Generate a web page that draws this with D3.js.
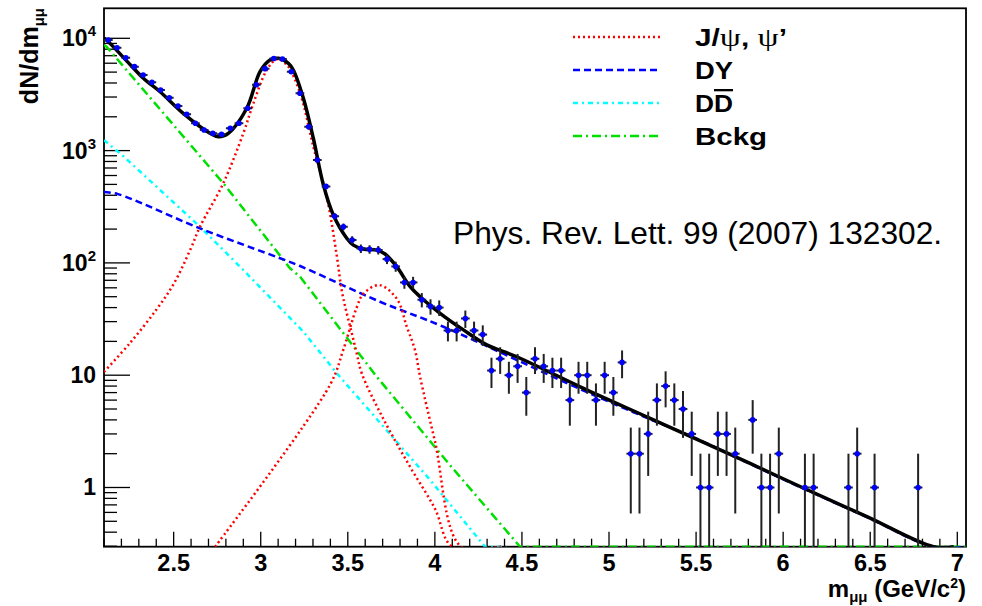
<!DOCTYPE html>
<html><head><meta charset="utf-8">
<script src="https://cdn.jsdelivr.net/npm/d3@7"></script>
<style>
body{margin:0;background:#fff;}
text{font-family:"Liberation Sans",Arial,Helvetica,sans-serif;}
</style></head><body>
<svg id="c" width="982" height="606"></svg>
<script>
// ---------------- DATA ----------------
const xTickValues = [2.5, 3, 3.5, 4, 4.5, 5, 5.5, 6, 6.5, 7];
const xTickLabels = ["2.5", "3", "3.5", "4", "4.5", "5", "5.5", "6", "6.5", "7"];
const yTickValues = [1, 10, 100, 1000, 10000];
const yTickBase   = ["1", "10", "10", "10", "10"];
const yTickExp    = ["", "", "2", "3", "4"];

// measured data (bin centres, counts)
const massBins = [2.125,2.175,2.225,2.275,2.325,2.375,2.425,2.475,2.525,2.575,2.625,2.675,2.725,2.775,2.825,2.875,2.925,2.975,
  3.025,3.075,3.125,3.175,3.225,3.275,3.325,3.375,3.425,3.475,3.525,3.575,3.625,3.675,3.725,3.775,3.825,3.875,3.925,3.975,
  4.025,4.075,4.125,4.175,4.225,4.275,4.325,4.375,4.425,4.475,4.525,4.575,4.625,4.675,4.725,4.775,4.825,4.875,4.925,4.975,
  5.025,5.075,5.125,5.175,5.225,5.275,5.325,5.375,5.425,5.475,5.525,5.575,5.625,5.675,5.725,5.825,5.875,5.925,5.975,
  6.125,6.175,6.375,6.425,6.525,6.775];
const counts = [9660,8250,6720,5590,4710,4060,3465,2960,2495,2105,1750,1525,1425,1400,1580,1750,2380,3860,
  5370,6600,6550,5040,3240,1630,825,480,260,210,160,134,132,130,108,93,67,67,47,41,
  40,25,25,32,25,23,11,14,10,12,7,14,12,11,11,6,10,10,6,10,
  7,13,2,2,3,6,8,6,5,3,1,1,3,3,2,4,1,1,2,
  1,1,1,2,1,1];

// fit curves: [mass, dN/dm]
const totalFit = [[2.10,10000],[2.125,9330],[2.23,6300],[2.326,4405],[2.422,3340],[2.555,2148],[2.709,1426],[2.757,1330],
  [2.814,1426],[2.920,2382],[2.996,5047],[3.053,6412],[3.101,6637],[3.159,5984],[3.187,5224],[3.245,2924],[3.302,1288],
  [3.360,494],[3.417,267],[3.494,166],[3.532,144],[3.589,133],[3.666,130],[3.714,120],[3.781,92.5],[3.858,61.4],
  [3.915,50],[4.030,35.6],[4.164,25.3],[4.298,18.6],[4.470,14.6],[4.853,7.64],[5.236,4.13],[5.810,1.64],[6.097,1.02],
  [6.481,0.55],[6.863,0.297],[6.98,0.297]];
const jpsiFit = [[2.10,10.7],[2.25,19.4],[2.40,38.2],[2.50,64.9],[2.60,136],[2.651,210],[2.785,512],[2.900,1426],
  [2.958,2636],[3.035,5224],[3.092,6501],[3.15,5800],[3.226,3236],[3.302,1084],[3.379,388],[3.437,115],[3.465,57],
  [3.494,35.6],[3.523,23.6],[3.551,15.7],[3.580,10.4],[3.70,4.2],[3.85,1.6],[4.00,0.65],[4.10,0.297],[4.38,0.297]];
const psi2Fit = [[2.738,0.297],[3.398,8.2],[3.475,17],[3.551,40],[3.589,53],
  [3.68,63.5],[3.781,48],[3.839,27],[3.886,16.7],[3.915,9.7],[4.00,2.6],[4.15,0.297],[4.38,0.297]];
const dyFit = [[2.10,428],[2.18,410],[2.651,203],[3.111,110],[3.226,93.8],[3.685,45.1],[4.049,27],[4.853,7.3],
  [5.236,4.05],[5.510,2.69],[5.810,1.62],[6.097,1.01],[6.481,0.545],[6.863,0.297],[7.05,0.297]];
const ddbarFit = [[2.10,1239],[2.205,910],[2.651,210],[2.881,92.5],[3.245,24.4],[3.437,10.4],
  [3.972,1.17],[4.288,0.297],[4.41,0.297]];
const bckgFit = [[2.10,8710],[2.115,8414],[2.785,512],[3.168,89.5],[3.226,75.3],[3.666,9.7],[4.087,1.58],
  [4.489,0.297],[7.05,0.297]];

const legendLabels = ["J/ψ, ψ’", "DY", "DD", "Bckg"];
const refText = "Phys. Rev. Lett. 99 (2007) 132302.";

// ---------------- DRAW ----------------
const svg = d3.select("#c");
const L = 104, R = 966, T = 8.3, B = 546.7;
const x = d3.scaleLinear().domain([2.1, 7.05]).range([L, R]);
const y = d3.scaleLog().domain([0.297, 18500]).range([B, T]);

svg.append("defs").append("clipPath").attr("id", "clip")
  .append("rect").attr("x", L).attr("y", T).attr("width", R - L).attr("height", B - T);

// minor ticks
const xMinor = d3.range(21, 71).map(k => k / 10).filter(v => !xTickValues.some(t => Math.abs(t - v) < 1e-6));
svg.append("g").selectAll("line").data(xMinor).join("line")
  .attr("x1", d => x(d)).attr("x2", d => x(d)).attr("y1", B).attr("y2", B - 8)
  .attr("stroke", "#000").attr("stroke-width", 1.3);
svg.append("g").selectAll("line").data(xTickValues).join("line")
  .attr("x1", d => x(d)).attr("x2", d => x(d)).attr("y1", B).attr("y2", B - 15)
  .attr("stroke", "#000").attr("stroke-width", 1.3);

const yMinor = [];
[0.1, 1, 10, 100, 1000, 10000].forEach(dec => { for (let k = 2; k <= 9; k++) { const v = k * dec; if (v >= 0.297 && v <= 18500) yMinor.push(v); } });
svg.append("g").selectAll("line").data(yMinor).join("line")
  .attr("x1", L).attr("x2", L + 13).attr("y1", d => y(d)).attr("y2", d => y(d))
  .attr("stroke", "#000").attr("stroke-width", 1.3);
svg.append("g").selectAll("line").data(yTickValues).join("line")
  .attr("x1", L).attr("x2", L + 26).attr("y1", d => y(d)).attr("y2", d => y(d))
  .attr("stroke", "#000").attr("stroke-width", 1.3);

// frame
svg.append("rect").attr("x", L).attr("y", T).attr("width", R - L).attr("height", B - T)
  .attr("fill", "none").attr("stroke", "#000").attr("stroke-width", 1.8);

// tick labels
svg.append("g").selectAll("text").data(xTickValues).join("text")
  .attr("x", d => x(d)).attr("y", 571).attr("text-anchor", "middle")
  .attr("font-size", 23.5).attr("font-weight", "bold")
  .text((d, i) => xTickLabels[i]);

const yl = svg.append("g").selectAll("text").data(yTickValues).join("text")
  .attr("x", 96).attr("y", d => y(d) + 8).attr("text-anchor", "end")
  .attr("font-size", 23).attr("font-weight", "bold");
yl.append("tspan").text((d, i) => yTickBase[i]);
yl.append("tspan").attr("dy", (d, i) => yTickExp[i] ? -10 : 0).attr("font-size", 15)
  .text((d, i) => yTickExp[i]);

// axis titles
const yt = svg.append("text").attr("transform", "translate(38,8) rotate(-90)")
  .attr("text-anchor", "end").attr("font-size", 25).attr("font-weight", "bold");
yt.append("tspan").text("dN/dm");
yt.append("tspan").attr("dy", 6).attr("font-size", 15).text("μμ");

const xt = svg.append("text").attr("x", 966).attr("y", 597).attr("text-anchor", "end")
  .attr("font-size", 24).attr("font-weight", "bold");
xt.append("tspan").text("m");
xt.append("tspan").attr("dy", 5).attr("font-size", 15).text("μμ");
xt.append("tspan").attr("dy", -5).text(" (GeV/c");
xt.append("tspan").attr("dy", -9).attr("font-size", 14).text("2");
xt.append("tspan").attr("dy", 9).text(")");

// curves
const smooth = d3.line().x(d => x(d[0])).y(d => y(d[1])).curve(d3.curveCatmullRom.alpha(0.5));
const straight = d3.line().x(d => x(d[0])).y(d => y(d[1]));
const plot = svg.append("g").attr("clip-path", "url(#clip)");
const styles = [
  {d: bckgFit, c: "#00e000", dash: "9,4,2,4", w: 2.5, g: straight},
  {d: ddbarFit, c: "#00ffff", dash: "5,4,2,4", w: 2.5, g: straight},
  {d: dyFit, c: "#0000ff", dash: "7,4", w: 2.5, g: smooth},
  {d: psi2Fit, c: "#ff0000", dash: "2,3", w: 2.5, g: smooth},
  {d: jpsiFit, c: "#ff0000", dash: "2,3", w: 2.5, g: smooth},
];
styles.forEach(s => plot.append("path").attr("d", s.g(s.d)).attr("fill", "none")
  .attr("stroke", s.c).attr("stroke-width", s.w).attr("stroke-dasharray", s.dash));
plot.append("path").attr("d", smooth(totalFit)).attr("fill", "none").attr("stroke", "#000").attr("stroke-width", 3.5);

// data points
const pts = massBins.map((m, i) => ({m, v: counts[i]}));
const hw = 0.025;
const gp = plot.append("g");
gp.selectAll("line.v").data(pts).join("line").attr("class", "v")
  .attr("x1", d => x(d.m)).attr("x2", d => x(d.m))
  .attr("y1", d => y(d.v + Math.sqrt(d.v)))
  .attr("y2", d => (d.v - Math.sqrt(d.v)) > 0.297 ? y(d.v - Math.sqrt(d.v)) : B)
  .attr("stroke", "#222").attr("stroke-width", 2);
gp.selectAll("line.h").data(pts).join("line").attr("class", "h")
  .attr("x1", d => x(d.m - hw)).attr("x2", d => x(d.m + hw))
  .attr("y1", d => y(d.v)).attr("y2", d => y(d.v))
  .attr("stroke", "#222").attr("stroke-width", 2);
gp.selectAll("circle").data(pts).join("circle")
  .attr("cx", d => x(d.m)).attr("cy", d => y(d.v)).attr("r", 2.8).attr("fill", "#0000ff");

// legend
const legY = [37, 70, 103, 136];
const legStyles = [styles[4], styles[2], styles[1], styles[0]];
const legW = [92, 38, 38, 72];
const lg = svg.append("g");
legStyles.forEach((s, i) => {
  lg.append("line").attr("x1", 573).attr("x2", 660).attr("y1", legY[i]).attr("y2", legY[i])
    .attr("stroke", s.c).attr("stroke-width", s.w).attr("stroke-dasharray", s.dash);
});
const t0 = lg.append("text").attr("x", 695).attr("y", legY[0] + 9).attr("font-size", 23).attr("font-weight", "bold")
  .attr("textLength", legW[0]).attr("lengthAdjust", "spacingAndGlyphs");
t0.append("tspan").text("J/");
t0.append("tspan").attr("font-family", "Liberation Serif").attr("font-weight", "normal").attr("font-size", 26).text("ψ");
t0.append("tspan").text(", ");
t0.append("tspan").attr("font-family", "Liberation Serif").attr("font-weight", "normal").attr("font-size", 26).text("ψ");
t0.append("tspan").text("’");
lg.append("text").attr("x", 695).attr("y", legY[1] + 9).attr("font-size", 23).attr("font-weight", "bold")
  .attr("textLength", legW[1]).attr("lengthAdjust", "spacingAndGlyphs").text(legendLabels[1]);
const t2 = lg.append("text").attr("x", 695).attr("y", legY[2] + 9).attr("font-size", 23).attr("font-weight", "bold")
  .attr("textLength", legW[2]).attr("lengthAdjust", "spacingAndGlyphs");
t2.append("tspan").text("D");
t2.append("tspan").style("text-decoration", "overline").text("D");
lg.append("text").attr("x", 695).attr("y", legY[3] + 9).attr("font-size", 23).attr("font-weight", "bold")
  .attr("textLength", legW[3]).attr("lengthAdjust", "spacingAndGlyphs").text(legendLabels[3]);

// reference annotation
svg.append("text").attr("x", 453).attr("y", 244).attr("font-size", 31.7).text(refText);
</script></body></html>
